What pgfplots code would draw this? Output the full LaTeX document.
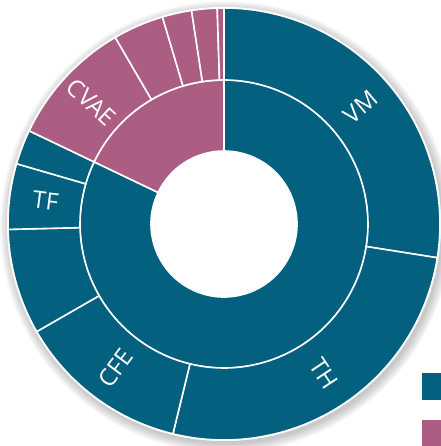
\documentclass[border=0pt]{standalone}
\usepackage{fontspec}
\setmainfont{Open Sans}
\usepackage{pgfplots}
\usepackage{pgfplotstable}
\pgfplotsset{compat=1.18}
\definecolor{tealc}{HTML}{03617F}
\definecolor{pinkc}{HTML}{AC5D84}

% inner ring (percent of full circle), clockwise from 12 o'clock
\pgfplotstableread{
value color label
82.1 tealc {}
17.9 pinkc {}
}\innerring

% outer ring
\pgfplotstableread{
value color label
27.5 tealc VM
26.3 tealc TH
12.9 tealc CFE
7.9 tealc {}
4.9 tealc TF
2.6 tealc {}
9.5 pinkc CVAE
3.8 pinkc {}
2.2 pinkc {}
1.9 pinkc {}
0.5 pinkc {}
}\outerring

\newcommand{\drawring}[3]{%
 \pgfplotstablegetrowsof{#1}%
 \pgfmathtruncatemacro{\lastrow}{\pgfplotsretval-1}%
 \xdef\cum{0}%
 \foreach \i in {0,...,\lastrow}{%
  \pgfplotstablegetelem{\i}{value}\of{#1}\let\segval\pgfplotsretval
  \pgfplotstablegetelem{\i}{color}\of{#1}\let\segcol\pgfplotsretval
  \pgfplotstablegetelem{\i}{label}\of{#1}\let\seglab\pgfplotsretval
  \pgfmathsetmacro{\sa}{90-3.6*\cum}%
  \pgfmathsetmacro{\sb}{90-3.6*(\cum+\segval)}%
  \pgfmathsetmacro{\xa}{#3*cos(\sa)}\pgfmathsetmacro{\ya}{#3*sin(\sa)}%
  \pgfmathsetmacro{\xb}{#2*cos(\sb)}\pgfmathsetmacro{\yb}{#2*sin(\sb)}%
  \filldraw[fill=\segcol, draw=white, line width=1.6bp, line join=round]
    (axis cs:\xa,\ya) arc[start angle=\sa, end angle=\sb, radius=#3bp]
    -- (axis cs:\xb,\yb) arc[start angle=\sb, end angle=\sa, radius=#2bp] -- cycle;
  \pgfmathsetmacro{\sm}{(\sa+\sb)/2}%
  \pgfmathsetmacro{\rot}{cos(\sm)<0 ? \sm+180 : \sm}%
  \pgfmathsetmacro{\lr}{(#2+#3)/2}%
  \pgfmathsetmacro{\lx}{\lr*cos(\sm)}\pgfmathsetmacro{\ly}{\lr*sin(\sm)}%
  \node[text=white, font=\fontsize{24}{24}\selectfont, rotate=\rot, inner sep=0pt]
    at (axis cs:\lx,\ly) {\seglab};
  \pgfmathsetmacro{\cnew}{\cum+\segval}\xdef\cum{\cnew}%
 }%
}

\begin{document}
\begin{tikzpicture}
\useasboundingbox (0,0) rectangle (441bp,446bp);
\clip (0,0) rectangle (441bp,446bp);
\begin{axis}[at={(0,0)}, anchor=south west, x=1bp, y=1bp,
  xmin=-224, xmax=217, ymin=-222, ymax=224, hide axis, clip=false,
  legend style={at={(0.9569,0.1637)}, anchor=north west, draw=none, fill=none,
    inner sep=0pt, outer sep=0pt, row sep=20bp, nodes={inner sep=0pt, outer sep=0pt}},
  legend image code/.code={\fill[#1] (0bp,-13.5bp) rectangle (27bp,13.5bp);}]
\addlegendimage{fill=tealc, draw=none}\addlegendentry{}
\addlegendimage{fill=pinkc, draw=none}\addlegendentry{}
\pgfplotsextra{%
  \foreach \k in {1,...,10}{%
    \pgfmathsetmacro{\rr}{216+\k}%
    \fill[black, opacity=0.025] (axis cs:2,-3) circle[radius=\rr bp];
  }%
  \fill[white] (axis cs:0,0) circle[radius=217bp];
  \drawring{\innerring}{73}{144}%
  \drawring{\outerring}{144}{216}%
}
\end{axis}
\end{tikzpicture}
\end{document}
